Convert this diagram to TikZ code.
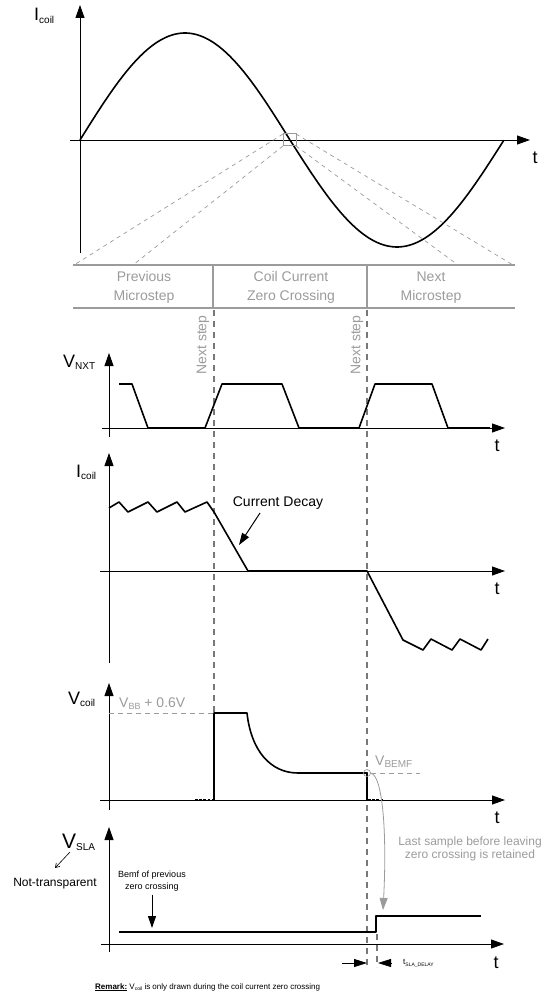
\documentclass[tikz,border=0pt]{standalone}
\usepackage{fontspec}
\setmainfont{Liberation Sans}
\usetikzlibrary{arrows.meta}
\definecolor{lgray}{RGB}{155,155,155}
\definecolor{dgray}{RGB}{120,120,120}
\newcommand\axlbl[3][18]{{\fontsize{#1}{#1}\selectfont #2}\raisebox{-0.45ex}{\fontsize{10}{10}\selectfont #3}}
\begin{document}
\begin{tikzpicture}[x=1pt,y=-1pt,
  axis/.style={line width=0.9pt,-{Triangle[length=13pt,width=9pt]}},
  wave/.style={line width=1.6pt,line join=round},
  zoomline/.style={lgray,line width=0.7pt,dash pattern=on 4pt off 4pt},
  guide/.style={dgray,line width=2.3pt,dash pattern=on 6pt off 5pt},
  tbl/.style={lgray,line width=1.2pt},
  tbltext/.style={lgray,font=\fontsize{14}{19}\selectfont,align=center},
  tlab/.style={font=\fontsize{18}{18}\selectfont},
  lbl/.style={anchor=base west,inner sep=0pt},
  grayline/.style={lgray,line width=0.8pt,dash pattern=on 5pt off 4pt},
  dots/.style={line width=2.4pt,dash pattern=on 2.6pt off 1.6pt},
  bigtip/.style={-{Triangle[length=12pt,width=8pt]}}
]
\useasboundingbox (0,0) rectangle (547,995);

% ---------- top chart ----------
\draw[axis] (80,253) -- (80,5);
\draw[axis] (70,140) -- (530,140);
\node[tlab] (t1) at (535,158) {t};
\node[lbl] (ic1) at (34,21) {\axlbl{I}{coil}};
\draw[wave] plot[domain=0:1,samples=60] ({80+210*\x},{140-107*sin(180*\x)});
\draw[wave] plot[domain=0:1,samples=60] ({290+214*\x},{140+107*sin(180*\x)});
\draw[lgray,line width=1pt] (283,134) rectangle (296,146);
\coordinate (sqTL) at (283,134);
\coordinate (sqBL) at (283,146);
\coordinate (sqTR) at (296,134);
\coordinate (sqBR) at (296,146);
\coordinate (zA) at (74,265);
\coordinate (zB) at (133,265);
\coordinate (zC) at (458,265);
\coordinate (zD) at (513,265);
\draw[zoomline] (sqTL) -- (zA);
\draw[zoomline] (sqBL) -- (zB);
\draw[zoomline] (sqBR) -- (zC);
\draw[zoomline] (sqTR) -- (zD);

% ---------- table ----------
\draw[tbl] (73,265) -- (515,265);
\draw[tbl] (73,308) -- (515,308);
\draw[tbl] (213,265) -- (213,308);
\draw[tbl] (367,265) -- (367,308);
\node[tbltext] (prev) at (144,287.5) {Previous\\Microstep};
\node[tbltext] (zero) at (291,287.5) {Coil Current\\Zero Crossing};
\node[tbltext] (next) at (431,287.5) {Next\\Microstep};

% ---------- guides ----------
\draw[guide] (214,310) -- (214,800);
\draw[guide] (367,310) -- (367,967);
\draw[guide] (377,934) -- (377,967);
\node[lgray,rotate=90,font=\fontsize{14}{14}\selectfont] (ns1) at (203,345) {Next step};
\node[lgray,rotate=90,font=\fontsize{14}{14}\selectfont] (ns2) at (357,345) {Next step};

% ---------- V_NXT ----------
\draw[axis] (109,437) -- (109,353);
\draw[axis] (102,428) -- (505,428);
\node[tlab] (t2) at (497,446) {t};
\node[lbl] (vnxt) at (63,367) {\axlbl{V}{NXT}};
\draw[wave] (119,384) -- (132,384) -- (148,428) -- (205,428) -- (222,384) -- (282,384) -- (299,428) -- (359,428) -- (375,384) -- (432,384) -- (448,428) -- (490,428);

% ---------- I_coil ----------
\draw[axis] (109,663) -- (109,453);
\draw[axis] (100,571) -- (505,571);
\node[tlab] (t3) at (497,589) {t};
\node[lbl] (ic2) at (76,477) {\axlbl{I}{coil}};
\draw[wave] (109,508) -- (119,502) -- (128,512) -- (148,502) -- (157,512) -- (177,502) -- (185,512) -- (207,502) -- (214,512) -- (248,571) -- (367,571) -- (403,640) -- (423,650) -- (431,639) -- (452,650) -- (460,639) -- (481,650) -- (488,639);
\node[font=\fontsize{14}{14}\selectfont] (cd) at (278,503) {Current Decay};
\coordinate (cdtip) at (239,545);
\draw[line width=1pt,bigtip] (260,513) -- (cdtip);

% ---------- V_coil ----------
\draw[axis] (109,810) -- (109,683);
\draw[axis] (100,800) -- (505,800);
\node[tlab] (t4) at (497,818) {t};
\node[lbl] (vc) at (68,704) {\axlbl{V}{coil}};
\draw[grayline] (109,713) -- (214,713);
\node[lbl,lgray] (vbb) at (119,707) {{\fontsize{14}{14}\selectfont V}\raisebox{-0.4ex}{\fontsize{9}{9}\selectfont BB}{\fontsize{14}{14}\selectfont\ + 0.6V}};
\draw[dots] (195,800) -- (213,800);
\draw[dots] (368,800) -- (383,800);
\draw[wave] (214,800) -- (214,713) -- (247,713) .. controls (251,750) and (270,773) .. (298,773) -- (367,773) -- (367,800);
\draw[grayline] (371,773) -- (420,773);
\node[lbl,lgray] (vbemf) at (375,765) {{\fontsize{14}{14}\selectfont V}\raisebox{-0.4ex}{\fontsize{10}{10}\selectfont BEMF}};
\node[draw=lgray,line width=0.7pt,circle,minimum size=7pt,inner sep=0pt] (samp) at (367,773) {};
\coordinate (samptip) at (383,910);
\draw[lgray,line width=0.8pt,-{Triangle[length=12pt,width=8pt]}] (samp.east) .. controls (383,776) and (387,835) .. (samptip);
\node[lgray,font=\fontsize{12}{13}\selectfont,align=center] (last) at (470,849) {Last sample before leaving\\zero crossing is retained};

% ---------- V_SLA ----------
\draw[axis] (109,952) -- (109,827);
\draw[axis] (101,944) -- (504,944);
\node[tlab] (t5) at (496,963) {t};
\node[lbl] (vsla) at (62,848) {\axlbl[21]{V}{SLA}};
\node[font=\fontsize{12}{12}\selectfont] (nt) at (55,884) {Not-transparent};
\coordinate (ntarr) at (55,868);
\draw[line width=0.6pt,-{Straight Barb[length=4pt,width=5pt]}] (70,852) -- (ntarr);
\node[font=\fontsize{9}{12}\selectfont,align=center] (bemf) at (152,881) {Bemf of previous\\zero crossing};
\coordinate (bemftip) at (152,928);
\draw[line width=1pt,bigtip] (bemf.south) -- (bemftip);
\draw[wave] (119,932) -- (376,932) -- (376,916) -- (481,916);
\coordinate (d1) at (367,963);
\coordinate (d2) at (378,963);
\draw[line width=0.8pt,-{Triangle[length=13pt,width=8pt]}] (342,963) -- (d1);
\draw[line width=0.8pt,-{Triangle[length=13pt,width=8pt]}] (392,963) -- (d2);
\node[anchor=west,inner sep=0pt] (tsla) at (403,963) {{\fontsize{8}{8}\selectfont t}\raisebox{-0.4ex}{\fontsize{5}{5}\selectfont SLA\_DELAY}};

% ---------- remark ----------
\node[lbl,font=\fontsize{8}{8}\selectfont] (rem) at (95,989) {\underline{\textbf{Remark:}} V\raisebox{-0.4ex}{\fontsize{5}{5}\selectfont coil} is only drawn during the coil current zero crossing};
\end{tikzpicture}
\end{document}
